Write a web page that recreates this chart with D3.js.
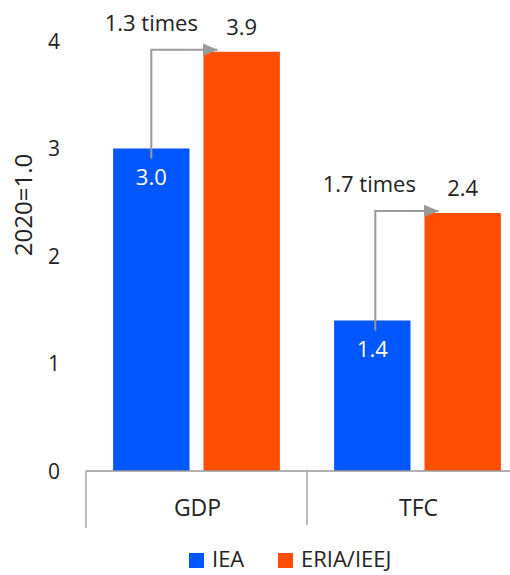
<!DOCTYPE html>
<html><head><meta charset="utf-8">
<script src="https://cdn.jsdelivr.net/npm/d3@7"></script>
<style>body{margin:0;background:#fff}svg{display:block}text{font-family:"Open Sans",sans-serif;fill:#222}</style>
</head><body><svg id="c" width="510" height="575"></svg>
<script>
const categories = ["GDP", "TFC"];
const seriesNames = ["IEA", "ERIA/IEEJ"];
const ieaValues = [3.0, 1.4];
const eriaValues = [3.9, 2.4];
const ratioLabels = ["1.3 times", "1.7 times"];
const yTicks = [0, 1, 2, 3, 4];
const colors = ["#0057FF", "#FF4E00"];

const svg = d3.select("#c");
const y = d3.scaleLinear().domain([0, 4]).range([471, 41]);
const x0 = d3.scaleBand().domain(categories).range([86, 528]);
const x1 = d3.scaleBand().domain(seriesNames).range([0, x0.bandwidth()]).paddingInner(0.155).paddingOuter(0.3);

// y tick labels
svg.selectAll(".yt").data(yTicks).join("text")
  .attr("x", 54).attr("y", d => y(d)).attr("dy", "0.36em")
  .attr("text-anchor", "middle").style("font-size", "21px").text(d => d);

svg.append("text").attr("transform", "translate(32,205) rotate(-90)")
  .attr("text-anchor", "middle").style("font-size", "24px").text("2020=1.0");

// bars
const data = categories.map((c, i) => ({c, vals: [ieaValues[i], eriaValues[i]]}));
const g = svg.selectAll(".cat").data(data).join("g").attr("transform", d => `translate(${x0(d.c)},0)`);
g.selectAll("rect").data(d => d.vals.map((v, j) => ({v, s: seriesNames[j], j}))).join("rect")
  .attr("x", d => x1(d.s)).attr("width", x1.bandwidth())
  .attr("y", d => y(d.v)).attr("height", d => y(0) - y(d.v))
  .attr("fill", d => colors[d.j]);

// category axis
const ax = svg.append("g").attr("stroke", "#999").attr("stroke-width", 1.3);
ax.append("line").attr("x1", 86).attr("x2", 528).attr("y1", y(0)).attr("y2", y(0));
[86, 307, 528].forEach((xx, i) => ax.append("line").attr("x1", xx).attr("x2", xx).attr("y1", y(0)).attr("y2", i === 0 ? 528 : 525));
svg.selectAll(".cl").data(categories).join("text")
  .attr("x", d => x0(d) + x0.bandwidth() / 2 + 1).attr("y", 508).attr("dy", "0.36em")
  .attr("text-anchor", "middle").style("font-size", "23px").text(d => d);

// value labels
data.forEach(d => {
  const xi = x0(d.c) + x1("IEA") + x1.bandwidth() / 2;
  const xe = x0(d.c) + x1("ERIA/IEEJ") + x1.bandwidth() / 2;
  svg.append("text").attr("x", xi).attr("y", y(d.vals[0]) + 29).attr("dy", "0.36em")
    .attr("text-anchor", "middle").style("font-size", "22px").style("fill", "#fff").text(d.vals[0].toFixed(1));
  svg.append("text").attr("x", xe).attr("y", y(d.vals[1]) - 25).attr("dy", "0.36em")
    .attr("text-anchor", "middle").style("font-size", "22px").text(d.vals[1].toFixed(1));
});

// arrows
svg.append("defs").append("marker").attr("id", "ah").attr("viewBox", "0 0 15 13")
  .attr("refX", 15).attr("refY", 6.5).attr("markerWidth", 15).attr("markerHeight", 13)
  .attr("markerUnits", "userSpaceOnUse").attr("orient", "auto")
  .append("path").attr("d", "M0,0L15,6.5L0,13Z").attr("fill", "#999");
data.forEach((d, i) => {
  const ax1 = x0(d.c) + x1("IEA") + x1.bandwidth() / 2 + i * 3;
  const tip = x0(d.c) + x1("ERIA/IEEJ") + 14;
  const yTop = y(d.vals[1]) - 2;
  svg.append("path").attr("d", `M${ax1},${y(d.vals[0]) + 10}V${yTop}H${tip}`)
    .attr("fill", "none").attr("stroke", "#999").attr("stroke-width", 2)
    .attr("marker-end", "url(#ah)");
  svg.append("text").attr("x", ax1 - 6 * i).attr("y", y(d.vals[1]) - 29).attr("dy", "0.36em")
    .attr("text-anchor", "middle").style("font-size", "22px").text(ratioLabels[i]);
});

// legend
const leg = [{n: "IEA", x: 189}, {n: "ERIA/IEEJ", x: 278}];
leg.forEach((l, i) => {
  svg.append("rect").attr("x", l.x).attr("y", 553).attr("width", 15).attr("height", 15).attr("fill", colors[i]);
  svg.append("text").attr("x", l.x + 23).attr("y", 560).attr("dy", "0.33em").style("font-size", "22px").text(l.n);
});
</script></body></html>
